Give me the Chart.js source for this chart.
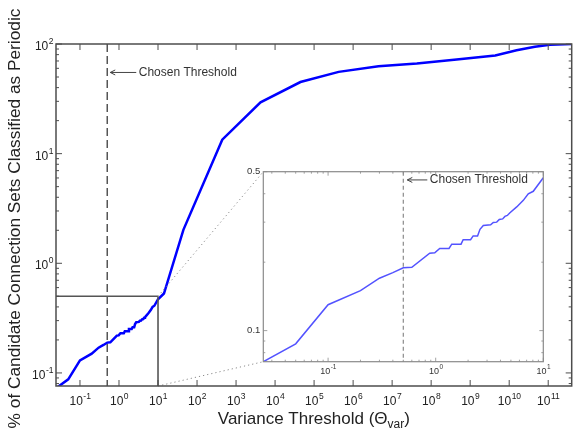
<!DOCTYPE html>
<html>
<head>
<meta charset="utf-8">
<script src="https://cdn.jsdelivr.net/npm/chart.js@4.4.0/dist/chart.umd.min.js"></script>
<style>
html, body { margin: 0; padding: 0; background: #fff; }
#wrap { position: relative; width: 573px; height: 431px; overflow: hidden; }
#mainChart { position: absolute; left: 0; top: 0; }
#insetChart { position: absolute; left: 230px; top: 160px; }
</style>
</head>
<body>
<div id="wrap">
  <canvas id="mainChart" width="573" height="431"></canvas>
  <canvas id="insetChart" width="330" height="220"></canvas>
</div>
<script>
// variance threshold (x) and % of sets classified as periodic (y)
var thresholds = [0.025, 0.05, 0.1, 0.2, 0.3, 0.4, 0.5, 0.6, 0.88, 0.98, 1.09, 1.33, 1.41, 1.72, 1.80, 2.11,
  2.23, 2.45, 2.58, 2.77, 3.24, 3.43, 3.69, 3.90, 4.19, 4.40, 4.63, 4.90, 5.66, 6.52, 7.25, 8.07, 10,
  14.2, 44.7, 443, 4240, 44700, 427000, 4.47e6, 4.3e7, 4.5e8, 4.4e9, 1.55e10, 4.56e10, 1.1e11, 4e11];
var percentPeriodic = [0.073, 0.0875, 0.130, 0.150, 0.170, 0.180, 0.189, 0.190, 0.219, 0.220, 0.230, 0.230, 0.240, 0.240, 0.251, 0.251,
  0.261, 0.261, 0.279, 0.290, 0.292, 0.299, 0.300, 0.308, 0.310, 0.318, 0.321, 0.330, 0.350, 0.374, 0.400, 0.410, 0.470,
  0.53, 2.02, 13.4, 29.4, 45, 55.7, 62.7, 66.4, 72.2, 78.6, 87.8, 94.3, 98.4, 100];

var chosenThreshold = 0.5;
var annotationText = 'Chosen Threshold';
var mainAnnotationY = 55;
var insetAnnotationY = 0.46;

// tick labels (powers of ten for the log axes)
var mainXExponents = [-1, 0, 1, 2, 3, 4, 5, 6, 7, 8, 9, 10, 11];
var mainYExponents = [-1, 0, 1, 2];
var insetXExponents = [-1, 0, 1];
var insetYTicks = [0.1, 0.5];
var insetYTickLabels = ['0.1', '0.5'];

// zoomed region shown in the inset
var zoomXMax = 10;
var zoomYMax = 0.5;

var mainRange = { xMin: 0.0243, xMax: 4e11, yMin: 0.076, yMax: 100 };
var insetRange = { xMin: 0.025, xMax: 10, yMin: 0.073, yMax: 0.5 };

var FONT = '"Liberation Sans", Arial, Helvetica, sans-serif';

var points = thresholds.map(function (t, i) { return { x: t, y: percentPeriodic[i] }; });

function minorValues(min, max, withMajors) {
  var out = [];
  for (var k = Math.floor(Math.log10(min)); k <= Math.ceil(Math.log10(max)); k++) {
    for (var m = withMajors ? 1 : 2; m <= 9; m++) {
      var v = m * Math.pow(10, k);
      if (v >= min * 0.999 && v <= max * 1.001) out.push(v);
    }
  }
  return out;
}

function drawPower(ctx, exp, x, y, baseSize, expSize, raise, align) {
  var e = String(exp);
  ctx.font = baseSize + 'px ' + FONT;
  var wb = ctx.measureText('10').width;
  ctx.font = expSize + 'px ' + FONT;
  var we = ctx.measureText(e).width;
  var left = align === 'right' ? x - wb - we : x - (wb + we) / 2;
  ctx.textAlign = 'left';
  ctx.textBaseline = 'alphabetic';
  ctx.font = baseSize + 'px ' + FONT;
  ctx.fillText('10', left, y);
  ctx.font = expSize + 'px ' + FONT;
  ctx.fillText(e, left + wb + 0.5, y - raise);
}

function line(ctx, x1, y1, x2, y2) {
  ctx.beginPath(); ctx.moveTo(x1, y1); ctx.lineTo(x2, y2); ctx.stroke();
}

function drawFrameTicks(chart, o) {
  var ctx = chart.ctx, a = chart.chartArea, xs = chart.scales.x, ys = chart.scales.y;
  ctx.save();
  ctx.strokeStyle = o.color;
  ctx.lineWidth = o.tickWidth;
  o.xMajor.forEach(function (v) {
    var p = xs.getPixelForValue(v);
    line(ctx, p, a.bottom, p, a.bottom - o.major);
    line(ctx, p, a.top, p, a.top + o.major);
  });
  o.xMinor.forEach(function (v) {
    var p = xs.getPixelForValue(v);
    line(ctx, p, a.bottom, p, a.bottom - o.minor);
    line(ctx, p, a.top, p, a.top + o.minor);
  });
  o.yMajor.forEach(function (v) {
    var p = ys.getPixelForValue(v);
    line(ctx, a.left, p, a.left + o.major, p);
    line(ctx, a.right, p, a.right - o.major, p);
  });
  o.yMinor.forEach(function (v) {
    var p = ys.getPixelForValue(v);
    line(ctx, a.left, p, a.left + o.minor, p);
    line(ctx, a.right, p, a.right - o.minor, p);
  });
  ctx.lineWidth = o.frameWidth;
  ctx.strokeRect(a.left, a.top, a.right - a.left, a.bottom - a.top);
  ctx.restore();
}

function drawThreshold(chart, color, width, dash, annY, arrowGap, arrowLen, fontSize) {
  var ctx = chart.ctx, a = chart.chartArea;
  var px = chart.scales.x.getPixelForValue(chosenThreshold);
  var py = chart.scales.y.getPixelForValue(annY);
  ctx.save();
  ctx.strokeStyle = color;
  ctx.lineWidth = width;
  ctx.setLineDash(dash);
  line(ctx, px, a.top, px, a.bottom);
  ctx.setLineDash([]);
  ctx.strokeStyle = '#444';
  ctx.lineWidth = 1;
  var hx = px + arrowGap;
  line(ctx, hx, py, hx + arrowLen, py);
  line(ctx, hx, py, hx + 5, py - 2.5);
  line(ctx, hx, py, hx + 5, py + 2.5);
  ctx.fillStyle = '#333';
  ctx.font = fontSize + 'px ' + FONT;
  ctx.textAlign = 'left';
  ctx.textBaseline = 'middle';
  ctx.fillText(annotationText, hx + arrowLen + 2.5, py);
  ctx.restore();
}

var baseOptions = {
  responsive: false,
  animation: false,
  events: [],
  plugins: { legend: { display: false }, tooltip: { enabled: false } }
};

// ---------- inset ----------
var insetChart = new Chart(document.getElementById('insetChart'), {
  type: 'line',
  data: {
    datasets: [{
      data: points,
      borderColor: 'rgba(40, 40, 255, 0.8)',
      borderWidth: 1.5,
      pointRadius: 0,
      tension: 0
    }]
  },
  options: Object.assign({}, baseOptions, {
    layout: { padding: { top: 11.7, right: 16.7, left: 0, bottom: 0 } },
    scales: {
      x: {
        type: 'logarithmic', min: insetRange.xMin, max: insetRange.xMax,
        grid: { display: false, drawTicks: false }, border: { display: false },
        ticks: { display: false },
        afterFit: function (s) { s.height = 18.3; }
      },
      y: {
        type: 'logarithmic', min: insetRange.yMin, max: insetRange.yMax,
        grid: { display: false, drawTicks: false }, border: { display: false },
        ticks: { display: false },
        afterFit: function (s) { s.width = 33.3; }
      }
    }
  }),
  plugins: [{
    id: 'insetDecor',
    beforeDatasetsDraw: function (chart) {
      var a = chart.chartArea, ctx = chart.ctx;
      ctx.save();
      ctx.fillStyle = '#fff';
      ctx.fillRect(a.left, a.top, a.right - a.left, a.bottom - a.top);
      ctx.restore();
    },
    afterDraw: function (chart) {
      var ctx = chart.ctx, a = chart.chartArea;
      drawThreshold(chart, '#8a8a8a', 1.2, [4, 3], insetAnnotationY, 4, 20, 12);
      drawFrameTicks(chart, {
        color: '#8a8a8a', tickWidth: 0.8, frameWidth: 1.2, major: 4, minor: 2,
        xMajor: insetXExponents.map(function (e) { return Math.pow(10, e); }),
        xMinor: minorValues(insetRange.xMin, insetRange.xMax, false),
        yMajor: insetYTicks,
        yMinor: minorValues(insetRange.yMin, insetRange.yMax, false).filter(function (v) { return insetYTicks.indexOf(v) < 0; })
      });
      ctx.save();
      ctx.fillStyle = '#333';
      insetXExponents.forEach(function (e) {
        drawPower(ctx, e, chart.scales.x.getPixelForValue(Math.pow(10, e)), a.bottom + 12, 9, 6.5, 4.5, 'center');
      });
      ctx.font = '9.5px ' + FONT;
      ctx.textAlign = 'right';
      ctx.textBaseline = 'middle';
      insetYTicks.forEach(function (v, i) {
        ctx.fillText(insetYTickLabels[i], a.left - 3, chart.scales.y.getPixelForValue(v));
      });
      ctx.restore();
    }
  }]
});

// ---------- main ----------
var insetCanvas = document.getElementById('insetChart');
var mainChart = new Chart(document.getElementById('mainChart'), {
  type: 'line',
  data: {
    datasets: [{
      data: points,
      borderColor: '#0000ff',
      borderWidth: 2.5,
      pointRadius: 0,
      tension: 0
    }]
  },
  options: Object.assign({}, baseOptions, {
    layout: { padding: { top: 44, right: 1.3, left: 0, bottom: 0 } },
    scales: {
      x: {
        type: 'logarithmic', min: mainRange.xMin, max: mainRange.xMax,
        grid: { display: false, drawTicks: false }, border: { display: false },
        ticks: { display: false },
        afterFit: function (s) { s.height = 45; }
      },
      y: {
        type: 'logarithmic', min: mainRange.yMin, max: mainRange.yMax,
        grid: { display: false, drawTicks: false }, border: { display: false },
        ticks: { display: false },
        afterFit: function (s) { s.width = 56; }
      }
    }
  }),
  plugins: [{
    id: 'mainDecor',
    afterDraw: function (chart) {
      var ctx = chart.ctx, a = chart.chartArea, xs = chart.scales.x, ys = chart.scales.y;

      // zoom box
      var bx = xs.getPixelForValue(zoomXMax), by = ys.getPixelForValue(zoomYMax);
      ctx.save();
      ctx.strokeStyle = '#555';
      ctx.lineWidth = 1.6;
      line(ctx, a.left, by, bx, by);
      line(ctx, bx, by, bx, a.bottom);

      // connectors to the inset corners
      var ia = insetChart.chartArea;
      var ox = insetCanvas.offsetLeft, oy = insetCanvas.offsetTop;
      ctx.strokeStyle = '#8a8a8a';
      ctx.lineWidth = 1;
      ctx.setLineDash([1.2, 3]);
      line(ctx, bx, by, ox + ia.left, oy + ia.top);
      line(ctx, bx, a.bottom, ox + ia.left, oy + ia.bottom);
      ctx.restore();

      drawThreshold(chart, '#555', 1.5, [8, 4], mainAnnotationY, 3, 26, 12);

      drawFrameTicks(chart, {
        color: '#4d4d4d', tickWidth: 1, frameWidth: 1.5, major: 6, minor: 3,
        xMajor: mainXExponents.map(function (e) { return Math.pow(10, e); }),
        xMinor: [],
        yMajor: mainYExponents.map(function (e) { return Math.pow(10, e); }),
        yMinor: minorValues(mainRange.yMin, mainRange.yMax, false)
      });

      ctx.save();
      ctx.fillStyle = '#222';
      mainXExponents.forEach(function (e) {
        drawPower(ctx, e, xs.getPixelForValue(Math.pow(10, e)), a.bottom + 18.7, 12, 8.5, 6, 'center');
      });
      mainYExponents.forEach(function (e) {
        drawPower(ctx, e, a.left - 3, ys.getPixelForValue(Math.pow(10, e)) + 6.2, 12, 8.5, 6, 'right');
      });

      // y axis title
      ctx.save();
      ctx.translate(15, (a.top + a.bottom) / 2 + 3.5);
      ctx.rotate(-Math.PI / 2);
      ctx.font = '17.3px ' + FONT;
      ctx.textAlign = 'center';
      ctx.textBaseline = 'middle';
      ctx.fillText('% of Candidate Connection Sets Classified as Periodic', 0, 0);
      ctx.restore();

      // x axis title with subscript
      var t1 = 'Variance Threshold (\u0398', sub = 'var', t2 = ')';
      ctx.font = '17px ' + FONT;
      var w1 = ctx.measureText(t1).width, w2 = ctx.measureText(t2).width;
      ctx.font = '12px ' + FONT;
      var ws = ctx.measureText(sub).width;
      var left = (a.left + a.right) / 2 - (w1 + ws + w2) / 2;
      var base = 424;
      ctx.textAlign = 'left';
      ctx.textBaseline = 'alphabetic';
      ctx.font = '17px ' + FONT;
      ctx.fillText(t1, left, base);
      ctx.font = '12px ' + FONT;
      ctx.fillText(sub, left + w1, base + 3.5);
      ctx.font = '17px ' + FONT;
      ctx.fillText(t2, left + w1 + ws, base);
      ctx.restore();
    }
  }]
});
</script>
</body>
</html>
